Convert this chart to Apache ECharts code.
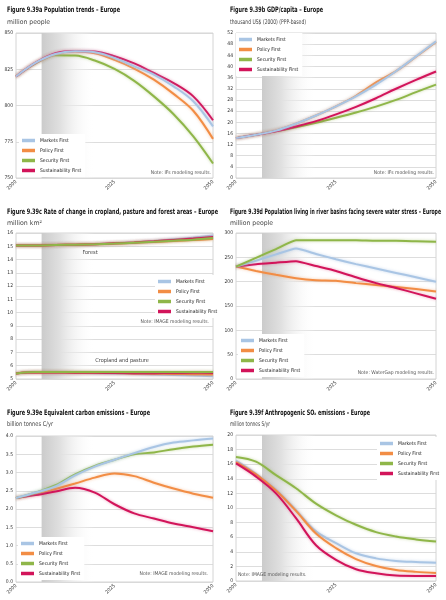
<!DOCTYPE html>
<html>
<head>
<meta charset="utf-8">
<script src="https://cdn.jsdelivr.net/npm/echarts@6/dist/echarts.min.js"></script>
<style>html,body{margin:0;padding:0;background:#fff;}#c{width:446px;height:600px;}</style>
</head>
<body>
<div id="c"></div>
<script>
// ---------- data ----------
const years = [2000, 2005, 2010, 2015, 2020, 2025, 2030, 2035, 2040, 2045, 2050];
const xTicks = ['2000', '2025', '2050'];
const scenarios = ['Markets First', 'Policy First', 'Security First', 'Sustainability First'];

// a: population (million people)
const popMarkets = [820, 829.5, 835.5, 837.4, 836.7, 832.8, 827, 821.3, 813.2, 802.9, 785.6];
const popPolicy = [820, 829.5, 835.5, 837.2, 836, 831.5, 825.5, 817.8, 808, 796.4, 777];
const popSecurity = [820, 829, 834.6, 834.4, 831, 825.2, 817, 806.3, 794, 778.7, 760];
const popSustain = [820, 829.5, 836, 837.6, 837.2, 834, 829, 822.4, 815.5, 806.3, 789.8];

// b: GDP/capita (thousand US$)
const gdpMarkets = [14.3, 15.5, 17, 19.5, 22.4, 25.7, 29.3, 33.5, 38.3, 43.6, 49];
const gdpPolicy = [14.3, 15.5, 17, 19.5, 22.4, 25.7, 29.5, 34.3, 38.3, 43.5, 48.8];
const gdpSecurity = [14.3, 15.5, 16.8, 18.2, 19.8, 21.6, 23.5, 25.6, 28.0, 30.8, 33.5];
const gdpSustain = [14.3, 15.5, 16.8, 18.5, 20.4, 22.8, 25.5, 28.6, 32.0, 35.2, 38.2];

// c: forest and cropland/pasture (million km2)
const forestMarkets = [15.05, 15.05, 15.1, 15.12, 15.16, 15.22, 15.3, 15.4, 15.52, 15.65, 15.82];
const forestPolicy = [15.05, 15.05, 15.1, 15.12, 15.15, 15.2, 15.27, 15.33, 15.4, 15.47, 15.55];
const forestSecurity = [15.05, 15.05, 15.1, 15.12, 15.15, 15.2, 15.27, 15.34, 15.42, 15.5, 15.62];
const forestSustain = [15.05, 15.05, 15.1, 15.12, 15.16, 15.22, 15.29, 15.38, 15.48, 15.58, 15.7];
const cropMarkets = [5.42, 5.5, 5.48, 5.46, 5.44, 5.42, 5.38, 5.34, 5.3, 5.26, 5.2];
const cropPolicy = [5.42, 5.5, 5.49, 5.48, 5.47, 5.45, 5.42, 5.4, 5.38, 5.36, 5.33];
const cropSecurity = [5.42, 5.52, 5.52, 5.52, 5.52, 5.52, 5.52, 5.52, 5.52, 5.53, 5.52];
const cropSustain = [5.42, 5.5, 5.49, 5.48, 5.47, 5.45, 5.44, 5.44, 5.45, 5.47, 5.46];

// d: population in water-stressed basins (million people)
const waterMarkets = [231, 243, 256, 268, 257, 246, 236, 227, 218, 209, 200];
const waterPolicy = [231, 222, 214, 207, 203, 202, 197, 193, 189, 185, 180];
const waterSecurity = [231, 249, 267, 285, 285, 285, 285, 284, 284, 283, 282];
const waterSustain = [231, 236, 239, 242, 232, 222, 209, 197, 187, 176, 165];

// e: carbon emissions (billion tonnes C/yr)
const carbonMarkets = [2.3, 2.45, 2.62, 2.92, 3.16, 3.35, 3.53, 3.7, 3.82, 3.88, 3.93];
const carbonPolicy = [2.3, 2.4, 2.55, 2.7, 2.86, 2.97, 2.9, 2.72, 2.56, 2.42, 2.31];
const carbonSecurity = [2.3, 2.45, 2.65, 2.95, 3.18, 3.35, 3.5, 3.55, 3.64, 3.71, 3.76];
const carbonSustain = [2.3, 2.38, 2.48, 2.58, 2.45, 2.13, 1.88, 1.74, 1.6, 1.5, 1.39];

// f: SOx emissions (million tonnes S/yr)
const soxMarkets = [16.5, 14.7, 12.5, 9.7, 6.8, 5.2, 3.8, 3.1, 2.75, 2.6, 2.5];
const soxPolicy = [16.3, 14.6, 12.4, 9.6, 6.5, 4.5, 3.0, 2.05, 1.5, 1.25, 1.1];
const soxSecurity = [17.0, 16.35, 14.5, 12.7, 10.6, 9.0, 7.7, 6.7, 6.1, 5.7, 5.4];
const soxSustain = [16.1, 14.3, 12.0, 8.6, 4.9, 2.9, 1.6, 1.05, 0.75, 0.7, 0.7];

const shadeYears = [2006.5, 2020];

// ---------- styling ----------
const FONT = "'Liberation Sans Narrow', 'DejaVu Sans Condensed', 'Liberation Sans', sans-serif";
const colors = {
  'Markets First': '#a9c5e4',
  'Policy First': '#f28d45',
  'Security First': '#8fb649',
  'Sustainability First': '#d2145a'
};
const glow = {
  'Markets First': 'rgba(169,197,228,0.7)',
  'Policy First': 'rgba(242,141,69,0.5)',
  'Security First': 'rgba(143,182,73,0.5)',
  'Sustainability First': 'rgba(210,20,90,0.4)'
};

const panels = [
  { grid: {left: 16, top: 33, width: 197, height: 145}, min: 750, max: 850, interval: 25, dec: 0, smooth: 0.35,
    sets: [{'Security First': popSecurity, 'Policy First': popPolicy, 'Sustainability First': popSustain, 'Markets First': popMarkets}],
    legend: {left: 19, top: 134} },
  { grid: {left: 236, top: 33, width: 200, height: 145}, min: 0, max: 52, interval: 4, dec: 0, smooth: 0.35,
    sets: [{'Policy First': gdpPolicy, 'Security First': gdpSecurity, 'Sustainability First': gdpSustain, 'Markets First': gdpMarkets}],
    legend: {left: 236, top: 33} },
  { grid: {left: 16, top: 233, width: 197, height: 146}, min: 5, max: 16, interval: 1, dec: 0, smooth: 0.35,
    sets: [{'Markets First': forestMarkets, 'Policy First': forestPolicy, 'Sustainability First': forestSustain, 'Security First': forestSecurity},
           {'Markets First': cropMarkets, 'Policy First': cropPolicy, 'Sustainability First': cropSustain, 'Security First': cropSecurity}],
    legend: {left: 155, top: 275} },
  { grid: {left: 236, top: 233, width: 200, height: 146}, min: 0, max: 300, interval: 50, dec: 0, smooth: 0.15,
    sets: [{'Policy First': waterPolicy, 'Sustainability First': waterSustain, 'Markets First': waterMarkets, 'Security First': waterSecurity}],
    legend: {left: 238, top: 334} },
  { grid: {left: 16, top: 436, width: 197, height: 146}, min: 0, max: 4, interval: 0.5, dec: 1, smooth: 0.35,
    sets: [{'Policy First': carbonPolicy, 'Sustainability First': carbonSustain, 'Security First': carbonSecurity, 'Markets First': carbonMarkets}],
    legend: {left: 18, top: 537} },
  { grid: {left: 236, top: 435, width: 200, height: 146}, min: 0, max: 20, interval: 2, dec: 0, smooth: 0.35,
    sets: [{'Security First': soxSecurity, 'Markets First': soxMarkets, 'Policy First': soxPolicy, 'Sustainability First': soxSustain}],
    legend: {left: 377, top: 437} }
];

// w = target rendered width (px) for condensed headline fonts
const texts = [
  {x: 7, y: 10, t: 'Figure 9.39a Population trends – Europe', title: true, w: 113},
  {x: 7, y: 22, t: 'million people', w: 43},
  {x: 230, y: 10, t: 'Figure 9.39b GDP/capita – Europe', title: true, w: 93},
  {x: 230, y: 22, t: 'thousand US$ (2000) (PPP-based)', w: 76},
  {x: 7, y: 212, t: 'Figure 9.39c Rate of change in cropland, pasture and forest areas – Europe', title: true, w: 211},
  {x: 7, y: 223, t: 'million km²', w: 35},
  {x: 230, y: 212, t: 'Figure 9.39d Population living in river basins facing severe water stress – Europe', title: true, w: 211},
  {x: 230, y: 223, t: 'million people', w: 43},
  {x: 7, y: 413, t: 'Figure 9.39e Equivalent carbon emissions – Europe', title: true, w: 143},
  {x: 7, y: 424, t: 'billion tonnes C/yr', w: 46},
  {x: 230, y: 413, t: 'Figure 9.39f Anthropogenic SOₓ emissions – Europe', title: true, w: 140},
  {x: 230, y: 424, t: 'million tonnes S/yr', w: 40},
  {x: 211, y: 173, t: 'Note: IFs modeling results.', note: true, align: 'right'},
  {x: 434, y: 173, t: 'Note: IFs modeling results.', note: true, align: 'right'},
  {x: 209, y: 322, t: 'Note: IMAGE modeling results.', note: true, align: 'right'},
  {x: 434, y: 373, t: 'Note: WaterGap modeling results.', note: true, align: 'right'},
  {x: 208, y: 574, t: 'Note: IMAGE modeling results.', note: true, align: 'right'},
  {x: 238, y: 575, t: 'Note: IMAGE modeling results.', note: true, align: 'left'},
  {x: 90, y: 253, t: 'Forest', label: true, align: 'center'},
  {x: 122, y: 361, t: 'Cropland and pasture', label: true, align: 'center'}
];

// ---------- option ----------
const grids = [], xAxes = [], yAxes = [], series = [], legends = [];
panels.forEach((p, i) => {
  grids.push(Object.assign({show: true, borderColor: '#c9c9c9', borderWidth: 0.8, containLabel: false}, p.grid));
  xAxes.push({
    type: 'value', gridIndex: i, min: 2000, max: 2050, interval: 25,
    axisLine: {show: false}, axisTick: {show: false}, splitLine: {show: false},
    axisLabel: {rotate: 45, fontSize: 5, color: '#333', fontFamily: FONT, margin: 3,
      formatter: v => xTicks.includes(String(v)) ? String(v) : ''}
  });
  yAxes.push({
    type: 'value', gridIndex: i, min: p.min, max: p.max, interval: p.interval,
    axisLine: {show: false}, axisTick: {show: false},
    splitLine: {lineStyle: {color: '#d4d4d4', width: 0.8}},
    axisLabel: {fontSize: 5, color: '#333', fontFamily: FONT, margin: 3,
      formatter: v => v.toFixed(p.dec)}
  });
  series.push({
    type: 'line', xAxisIndex: i, yAxisIndex: i, data: [[2000, null]], silent: true, z: 1,
    symbol: 'none', lineStyle: {opacity: 0},
    markArea: {
      silent: true,
      itemStyle: {color: {type: 'linear', x: 0, y: 0, x2: 1, y2: 0, colorStops: [
        {offset: 0, color: '#cbcbcb'}, {offset: 0.35, color: '#e0e0e0'}, {offset: 1, color: 'rgba(255,255,255,0)'}]}},
      data: [[{xAxis: shadeYears[0]}, {xAxis: shadeYears[1]}]]
    }
  });
  p.sets.forEach(set => {
    Object.keys(set).forEach((name, k) => {
      series.push({
        type: 'line', name: name, xAxisIndex: i, yAxisIndex: i,
        data: years.map((yr, j) => [yr, set[name][j]]),
        symbol: 'none', showSymbol: false, smooth: p.smooth, z: 3 + k,
        color: colors[name],
        lineStyle: {width: 2, color: colors[name], shadowColor: glow[name], shadowBlur: 3},
        itemStyle: {color: colors[name]}
      });
    });
  });
  legends.push({
    left: p.legend.left, top: p.legend.top, orient: 'vertical',
    data: scenarios, icon: 'rect', itemWidth: 13, itemHeight: 3.5, itemGap: 3,
    backgroundColor: '#fff', padding: [3, 4, 3, 3],
    selectedMode: false,
    textStyle: {fontSize: 5, lineHeight: 7, color: '#222', fontFamily: FONT},
    itemStyle: {shadowBlur: 0}
  });
});

const ctx = document.createElement('canvas').getContext('2d');
const graphics = texts.map(t => {
  const size = t.title ? 7.5 : (t.note ? 5 : (t.label ? 5.5 : 6.5));
  const weight = t.title ? 'bold' : 'normal';
  let sx = 1;
  if (t.w) {
    ctx.font = weight + ' ' + size + 'px ' + FONT;
    sx = t.w / ctx.measureText(t.t).width;
  }
  return {
    type: 'text', x: t.x, y: t.y, scaleX: sx, silent: true,
    style: {
      text: t.t,
      fill: t.title ? '#111' : (t.note ? '#555' : '#444'),
      fontSize: size, fontWeight: weight, fontFamily: FONT,
      textAlign: t.align || 'left', textVerticalAlign: 'middle'
    },
    z: 100
  };
});

const chart = echarts.init(document.getElementById('c'), null, {renderer: 'canvas'});
chart.setOption({
  animation: false,
  backgroundColor: '#fff',
  grid: grids, xAxis: xAxes, yAxis: yAxes,
  legend: legends, series: series, graphic: graphics
});
</script>
</body>
</html>
